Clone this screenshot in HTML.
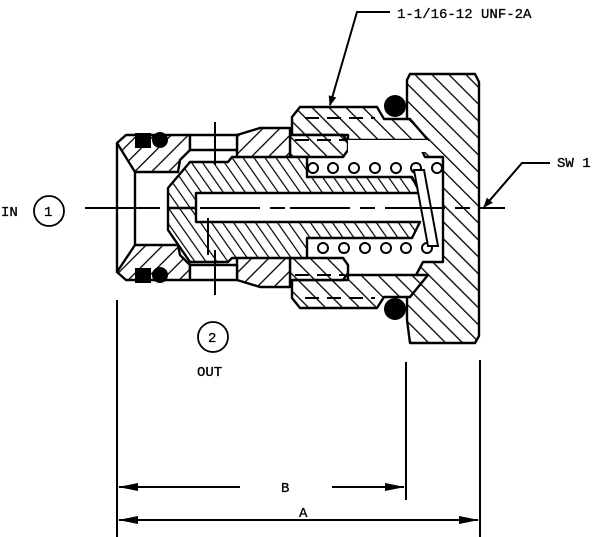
<!DOCTYPE html>
<html><head><meta charset="utf-8"><style>
html,body{margin:0;padding:0;background:#fff;}
svg{display:block;}
text{font-family:"Liberation Mono","DejaVu Sans Mono",monospace;font-size:14px;fill:#000;stroke:#000;stroke-width:0.3;}
</style></head><body>
<svg width="600" height="537" viewBox="0 0 600 537" xmlns="http://www.w3.org/2000/svg">
<defs>
<pattern id="h" width="12" height="12" patternUnits="userSpaceOnUse" patternTransform="rotate(45)">
<rect width="12" height="12" fill="#fff"/><line x1="0" y1="0" x2="0" y2="12" stroke="#000" stroke-width="2.6"/></pattern>
<pattern id="h2" width="12" height="12" patternUnits="userSpaceOnUse" patternTransform="rotate(-45)">
<rect width="12" height="12" fill="#fff"/><line x1="0" y1="0" x2="0" y2="12" stroke="#000" stroke-width="2.6"/></pattern>
<pattern id="h3" width="9" height="9" patternUnits="userSpaceOnUse" patternTransform="rotate(-35)">
<rect width="9" height="9" fill="#fff"/><line x1="0" y1="0" x2="0" y2="9" stroke="#000" stroke-width="2.4"/></pattern>
<marker id="ar" markerWidth="10" markerHeight="8" refX="9" refY="4" orient="auto" markerUnits="userSpaceOnUse"><path d="M0,0 L10,4 L0,8 z" fill="#000"/></marker>
</defs>
<g stroke="#000" stroke-width="2.4" stroke-linejoin="round">
<path d="M410,74 L475,74 L479,82 L479,336 L475,343 L410,343 L407,320 L407,292 L423,262 L443,262 L443,157 L425,157 L407,120 L407,80 Z" fill="url(#h2)"/>
<path d="M292,117 L300,107 L377,107 L384,119 L410,119 L428,140 L348,140 L348,135 L292,135 Z" fill="url(#h2)"/>
<path d="M292,298 L300,308 L377,308 L384,297 L410,297 L428,275 L348,275 L348,280 L292,280 Z" fill="url(#h2)"/>
<path d="M290,135 L343,135 L348,142 L348,150 L343,157 L290,157 Z" fill="url(#h2)"/>
<path d="M290,258 L343,258 L348,265 L348,273 L343,280 L290,280 Z" fill="url(#h2)"/>
<path d="M117,143 L126,135 L190,135 L190,150 L180,160 L178,172 L135,172 Z" fill="url(#h)"/>
<path d="M237,135 L260,128 L290,128 L290,157 L237,160 Z" fill="url(#h)"/>
<path d="M117,272 L126,280 L190,280 L190,265 L180,255 L178,245 L135,245 Z" fill="url(#h)"/>
<path d="M237,280 L260,287 L290,287 L290,258 L237,255 Z" fill="url(#h)"/>
<path d="M117,143 L117,272" fill="none"/>
<path d="M135,172 L135,245" fill="none"/>
<rect x="190" y="135" width="47" height="15" fill="#fff"/>
<rect x="190" y="265" width="47" height="15" fill="#fff"/>
<path d="M190,162 L228,162 L232,157 L290,157 L307,157 L307,177 L412,177 L420,193 L196,193 L196,222 L420,222 L412,238 L307,238 L307,258 L232,258 L228,262 L190,262 L168,230 L168,188 Z" fill="url(#h3)"/>
<line x1="168" y1="208" x2="196" y2="208"/>
<rect x="348" y="140" width="80" height="12" fill="#fff" stroke="none"/>
</g>
<g fill="#fff" stroke="#000" stroke-width="2">
<circle cx="313" cy="168" r="5"/><circle cx="333" cy="168" r="5"/><circle cx="354" cy="168" r="5"/><circle cx="375" cy="168" r="5"/><circle cx="396" cy="168" r="5"/><circle cx="416" cy="168" r="5"/><circle cx="437" cy="168" r="5"/>
<circle cx="323" cy="248" r="5"/><circle cx="344" cy="248" r="5"/><circle cx="365" cy="248" r="5"/><circle cx="386" cy="248" r="5"/><circle cx="406" cy="248" r="5"/><circle cx="427" cy="248" r="5"/>
<path d="M414,170 L424,170 L438,246 L428,246 Z"/>
</g>
<g stroke="#000" stroke-width="2" stroke-dasharray="14,8">
<line x1="305" y1="118" x2="375" y2="118"/><line x1="305" y1="298" x2="375" y2="298"/>
<line x1="295" y1="140" x2="345" y2="140"/><line x1="295" y1="275" x2="345" y2="275"/>
</g>
<g fill="#000">
<circle cx="395" cy="106" r="11"/><circle cx="395" cy="309" r="11"/>
<circle cx="160" cy="140" r="8"/><circle cx="160" cy="275" r="8"/>
<rect x="135" y="133" width="16" height="15"/><rect x="135" y="268" width="16" height="15"/>
</g>
<g stroke="#000" stroke-width="2" fill="none">
<line x1="85" y1="208" x2="160" y2="208"/>
<line x1="200" y1="208" x2="290" y2="208" stroke-dasharray="60,10,15,10"/>
<line x1="290" y1="208" x2="505" y2="208" stroke-dasharray="60,10,15,10"/>
<line x1="215" y1="122" x2="215" y2="165"/>
<line x1="215" y1="250" x2="215" y2="295"/>
<line x1="208" y1="218" x2="208" y2="255"/>
<polyline points="390,12 357,12 330,105" marker-end="url(#ar)"/>
<polyline points="550,163 522,163 484,207" marker-end="url(#ar)"/>
<circle cx="49" cy="211" r="15" stroke-width="1.8"/>
<circle cx="213" cy="337" r="15" stroke-width="1.8"/>
<line x1="117" y1="300" x2="117" y2="537"/>
<line x1="406" y1="362" x2="406" y2="500"/>
<line x1="480" y1="360" x2="480" y2="537"/>
<line x1="119" y1="487" x2="240" y2="487"/>
<line x1="332" y1="487" x2="404" y2="487"/>
<line x1="119" y1="520" x2="478" y2="520"/>
</g>
<g fill="#000">
<path d="M118,487 L138,483 L138,491 Z"/><path d="M405,487 L385,483 L385,491 Z"/>
<path d="M118,520 L138,516 L138,524 Z"/><path d="M479,520 L459,516 L459,524 Z"/>
</g>
<text x="397" y="18">1-1/16-12 UNF-2A</text>
<text x="557" y="167">SW 1</text>
<text x="1" y="216">IN</text>
<text x="44" y="216">1</text>
<text x="208" y="342">2</text>
<text x="197" y="376">OUT</text>
<text x="281" y="492">B</text>
<text x="299" y="517">A</text>
</svg>
</body></html>
